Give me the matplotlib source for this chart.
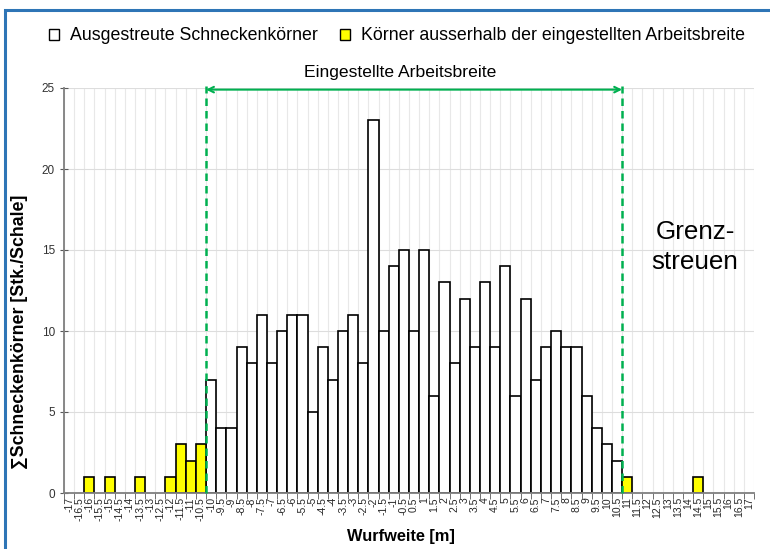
import matplotlib.pyplot as plt
import numpy as np
from matplotlib.patches import Patch, Rectangle

plt.rcParams['font.family'] = ['Liberation Sans', 'DejaVu Sans']

# Wurfweite-Klassen (0 ist keine Klasse)
wurfweite = [-17, -16.5, -16, -15.5, -15, -14.5, -14, -13.5, -13, -12.5, -12, -11.5, -11, -10.5,
             -10, -9.5, -9, -8.5, -8, -7.5, -7, -6.5, -6, -5.5, -5, -4.5, -4, -3.5, -3, -2.5,
             -2, -1.5, -1, -0.5,
             0.5, 1, 1.5, 2, 2.5, 3, 3.5, 4, 4.5, 5, 5.5, 6, 6.5, 7, 7.5, 8, 8.5, 9, 9.5, 10, 10.5,
             11, 11.5, 12, 12.5, 13, 13.5, 14, 14.5, 15, 15.5, 16, 16.5, 17]

ausgestreut = [0, 0, 0, 0, 0, 0, 0, 0, 0, 0, 0, 0, 0, 0,
               7, 4, 4, 9, 8, 11, 8, 10, 11, 11, 5, 9, 7, 10, 11, 8,
               23, 10, 14, 15,
               10, 15, 6, 13, 8, 12, 9, 13, 9, 14, 6, 12, 7, 9, 10, 9, 9, 6, 4, 3, 2,
               0, 0, 0, 0, 0, 0, 0, 0, 0, 0, 0, 0, 0]

ausserhalb = [0, 0, 1, 0, 1, 0, 0, 1, 0, 0, 1, 3, 2, 3,
              0, 0, 0, 0, 0, 0, 0, 0, 0, 0, 0, 0, 0, 0, 0, 0,
              0, 0, 0, 0,
              0, 0, 0, 0, 0, 0, 0, 0, 0, 0, 0, 0, 0, 0, 0, 0, 0, 0, 0, 0, 0,
              1, 0, 0, 0, 0, 0, 0, 1, 0, 0, 0, 0, 0]

breite_links = -10
breite_rechts = 10.5

green = '#00B050'
W, H = 770, 549

fig = plt.figure(figsize=(W / 100, H / 100), dpi=100)
ax = fig.add_axes([64 / W, 56 / H, 690 / W, 405 / H])

x = np.arange(len(wurfweite))
a = np.array(ausgestreut)
b = np.array(ausserhalb)
ax.bar(x[a > 0], a[a > 0], width=1.0, color='white', edgecolor='black', linewidth=1.2, zorder=3)
ax.bar(x[b > 0], b[b > 0], width=1.0, color='#FFFF00', edgecolor='black', linewidth=1.2, zorder=3)

ax.set_xlim(-0.5, len(wurfweite) - 0.5)
ax.set_ylim(0, 25)
ax.set_yticks(range(0, 26, 5))
ax.set_xticks(x)
ax.set_xticklabels([('%g' % v) for v in wurfweite], rotation=90, fontsize=7.5, color='#262626')
ax.set_xticks(np.arange(-0.5, len(wurfweite)), minor=True)
ax.tick_params(axis='x', which='major', length=0, pad=3)
ax.tick_params(axis='x', which='minor', length=4, direction='out', color='#595959')
ax.tick_params(axis='y', length=6, direction='inout', color='#595959', labelsize=8.5, labelcolor='#333333')
ax.grid(axis='x', which='minor', color='#E8E8E8', lw=0.8, zorder=0)
ax.grid(axis='y', which='major', color='#DDDDDD', lw=0.8, zorder=0)
for s in ['top', 'right']:
    ax.spines[s].set_visible(False)
for s in ['left', 'bottom']:
    ax.spines[s].set_color('#7F7F7F')
    ax.spines[s].set_linewidth(1.3)
    ax.spines[s].set_zorder(4)

# eingestellte Arbeitsbreite
xl = wurfweite.index(breite_links) - 0.5
xr = wurfweite.index(breite_rechts) + 0.5
for xv in (xl, xr):
    ax.plot([xv, xv], [0, 25.15], color=green, ls=(0, (3, 2)), lw=1.8, clip_on=False, zorder=5)
ax.annotate('', xy=(xl, 24.9), xytext=(xr, 24.9),
            arrowprops=dict(arrowstyle='<->', color=green, lw=1.5, shrinkA=0, shrinkB=0),
            annotation_clip=False)
fig.text(400 / W, 1 - 72 / H, 'Eingestellte Arbeitsbreite', ha='center', va='center', fontsize=12.6)

fig.text(695 / W, 1 - 247 / H, 'Grenz-\nstreuen', ha='center', va='center', fontsize=18.7, linespacing=1.3)

fig.text(20 / W, 1 - 332 / H, '\u2211Schneckenkörner [Stk./Schale]', rotation=90, ha='center', va='center',
         fontsize=12.8, fontweight='bold')
fig.text(401 / W, 1 - 537 / H, 'Wurfweite [m]', ha='center', va='center', fontsize=11.8, fontweight='bold')

handles = [Patch(facecolor='white', edgecolor='black', lw=1.0),
           Patch(facecolor='#FFFF00', edgecolor='black', lw=1.0)]
fig.legend(handles, ['Ausgestreute Schneckenkörner', 'Körner ausserhalb der eingestellten Arbeitsbreite'],
           loc='center', bbox_to_anchor=(397 / W, 1 - 36 / H), ncol=2, frameon=False, fontsize=12.8,
           handlelength=0.55, handleheight=0.55, handletextpad=0.6, columnspacing=1.3)

fig.add_artist(Rectangle((5 / W, -0.1), 1.2, 1 - 10 / H + 0.1, transform=fig.transFigure,
                         fill=False, edgecolor='#2E75B6', lw=2.2))

fig.savefig('out.png', dpi=100)
